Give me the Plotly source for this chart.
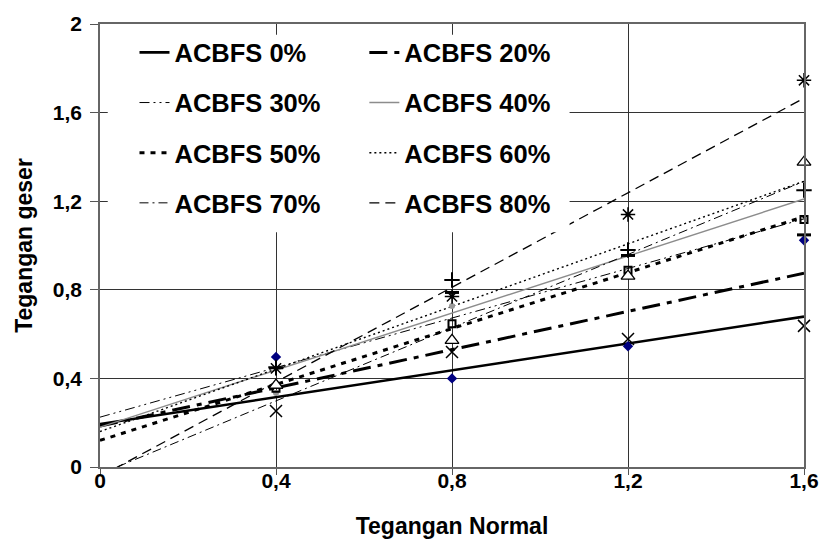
import plotly.graph_objects as go

# Normal stress levels at which the shear tests were run
normal_stress = [0.4, 0.8, 1.2, 1.6]

# Measured shear stress for each ACBFS replacement level
shear_acbfs_0 = [0.253, 0.519, 0.578, 0.637]
shear_acbfs_20 = [0.497, 0.400, 0.545, 1.024]
shear_acbfs_30 = [0.360, 0.788, 0.955, 1.048]
shear_acbfs_40 = [0.334, 0.727, 1.140, 1.376]
shear_acbfs_50 = [0.356, 0.647, 0.888, 1.117]
shear_acbfs_60 = [0.450, 0.844, 0.980, 1.250]
shear_acbfs_70 = [0.370, 0.572, 0.862, 1.376]
shear_acbfs_80 = [0.445, 0.770, 1.140, 1.746]

series_names = ["ACBFS 0%", "ACBFS 20%", "ACBFS 30%", "ACBFS 40%",
                "ACBFS 50%", "ACBFS 60%", "ACBFS 70%", "ACBFS 80%"]

# Linear trend lines: value at normal stress 0 and at 1.6
trend_x = [0.0, 1.6]
trend_start = [0.194, 0.185, 0.225, 0.180, 0.120, 0.160, -0.032, -0.043]
trend_end = [0.679, 0.875, 1.120, 1.210, 1.130, 1.290, 1.290, 1.665]

x_tick_vals = [0, 0.4, 0.8, 1.2, 1.6]
x_tick_text = ["0", "0,4", "0,8", "1,2", "1,6"]
y_tick_vals = [0, 0.4, 0.8, 1.2, 1.6, 2]
y_tick_text = ["0", "0,4", "0,8", "1,2", "1,6", "2"]

shear_data = [shear_acbfs_0, shear_acbfs_20, shear_acbfs_30, shear_acbfs_40,
              shear_acbfs_50, shear_acbfs_60, shear_acbfs_70, shear_acbfs_80]

line_styles = [
    dict(color="black", width=2.6, dash="solid"),
    dict(color="black", width=3.0, dash="18px,7px,5px,7px"),
    dict(color="black", width=1.0, dash="10px,4px,2px,4px,2px,4px"),
    dict(color="#8c8c8c", width=1.4, dash="solid"),
    dict(color="black", width=3.0, dash="5px,6px"),
    dict(color="black", width=1.4, dash="2px,3px"),
    dict(color="black", width=1.0, dash="9px,4px,2px,4px"),
    dict(color="black", width=1.3, dash="10px,6px"),
]

marker_styles = [
    dict(symbol="x-thin-open", size=12, color="black", line=dict(color="black", width=1.5)),
    dict(symbol="diamond", size=8, color="#000080", line=dict(width=0)),
    dict(symbol="line-ew-open", size=10, color="black", line=dict(color="black", width=3)),
    dict(symbol="circle", size=6, color="#9a9a9a", line=dict(width=0)),
    dict(symbol="square-open", size=7, color="black", line=dict(color="black", width=2)),
    dict(symbol="cross-thin-open", size=11, color="black", line=dict(color="black", width=2)),
    dict(symbol="triangle-up", size=12, color="white", line=dict(color="black", width=1.3)),
    dict(symbol="asterisk-open", size=12, color="black", line=dict(color="black", width=1.5)),
]

fig = go.Figure()

for i, name in enumerate(series_names):
    fig.add_trace(go.Scatter(
        x=trend_x, y=[trend_start[i], trend_end[i]],
        mode="lines", name=name, line=line_styles[i],
        legend="legend" if i % 2 == 0 else "legend2",
        legendgroup=f"g{i}", hoverinfo="skip",
    ))

for i, name in enumerate(series_names):
    fig.add_trace(go.Scatter(
        x=normal_stress, y=shear_data[i], mode="markers",
        marker=marker_styles[i], showlegend=False, name=name,
        cliponaxis=False,
    ))

font_main = "Liberation Sans, Arial, sans-serif"
legend_common = dict(
    bgcolor="rgba(0,0,0,0)", borderwidth=0,
    font=dict(family=font_main, size=25.5, color="black", weight="bold"),
    tracegroupgap=14, itemwidth=30, yanchor="top", xanchor="left",
    y=0.988,
)

fig.update_layout(
    width=831, height=550,
    margin=dict(l=100, r=22, t=16, b=83),
    paper_bgcolor="white", plot_bgcolor="white",
    showlegend=True,
    legend=dict(legend_common, x=0.049),
    legend2=dict(legend_common, x=0.3755),
    # white panel behind the legend entries
    shapes=[dict(type="rect", xref="paper", yref="paper",
                 x0=0.011, x1=0.667, y0=0.53, y1=0.976,
                 fillcolor="white", line=dict(width=0), layer="above")],
    xaxis=dict(
        range=[0, 1.6], tickvals=x_tick_vals, ticktext=x_tick_text,
        showgrid=True, gridcolor="#333333", gridwidth=1,
        showline=True, linecolor="#666666", linewidth=1.5, mirror=True,
        ticks="outside", ticklen=6, tickcolor="#555555",
        ticklabelstandoff=-12,
        tickfont=dict(family=font_main, size=21, color="black", weight="bold"),
        title=dict(text="Tegangan Normal", standoff=27,
                   font=dict(family=font_main, size=23, color="black", weight="bold")),
        zeroline=False,
    ),
    yaxis=dict(
        range=[0, 2], tickvals=y_tick_vals, ticktext=y_tick_text,
        showgrid=True, gridcolor="#333333", gridwidth=1,
        showline=True, linecolor="#666666", linewidth=1.5, mirror=True,
        ticks="outside", ticklen=8, tickcolor="#555555",
        ticklabelstandoff=4,
        tickfont=dict(family=font_main, size=21, color="black", weight="bold"),
        title=dict(text="Tegangan geser", standoff=14,
                   font=dict(family=font_main, size=23, color="black", weight="bold")),
        zeroline=False,
    ),
)

fig.write_html("out.html")
